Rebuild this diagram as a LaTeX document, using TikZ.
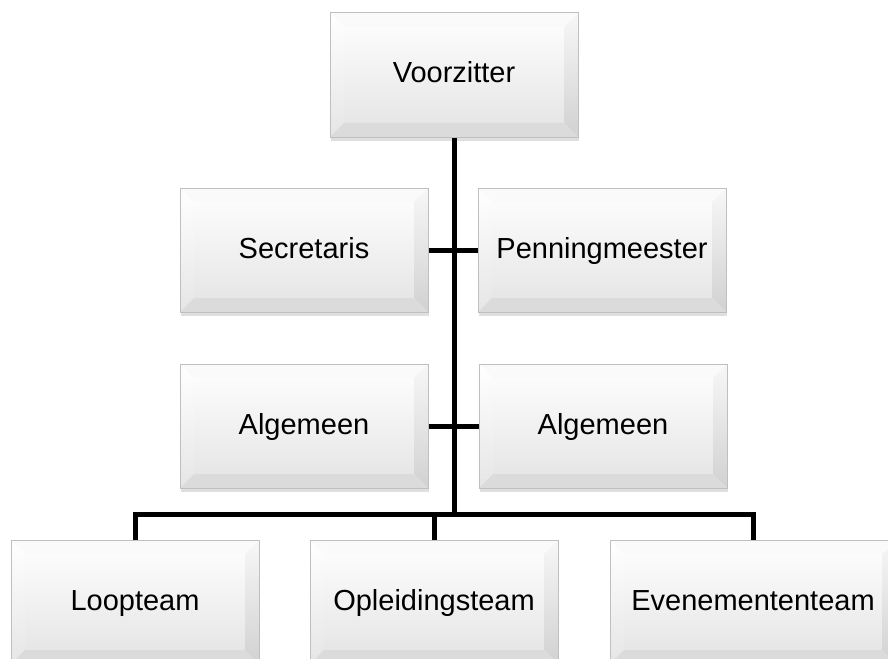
\documentclass[tikz,border=0pt]{standalone}
\usepackage{fontspec}
\setmainfont{Liberation Sans}
\usetikzlibrary{shadows}

\tikzset{
  bevel/.style={
    minimum width=248pt, minimum height=124pt, inner sep=0pt,
    text height=21pt, text depth=5pt,
    font=\fontsize{29}{31}\selectfont,
    draw=gray!50, line width=1pt,
    top color=white, bottom color=gray!22,
    drop shadow={shadow xshift=1pt, shadow yshift=-4pt, opacity=0.25, fill=gray},
    path picture={
      \coordinate (pnw) at (path picture bounding box.north west);
      \coordinate (pne) at (path picture bounding box.north east);
      \coordinate (psw) at (path picture bounding box.south west);
      \coordinate (pse) at (path picture bounding box.south east);
      \coordinate (inw) at ([shift={(14pt,-14pt)}]pnw);
      \coordinate (ine) at ([shift={(-14pt,-14pt)}]pne);
      \coordinate (isw) at ([shift={(14pt,14pt)}]psw);
      \coordinate (ise) at ([shift={(-14pt,14pt)}]pse);
      \fill[gray!4] (pnw) -- (pne) -- (ine) -- (inw) -- cycle;
      \shade[top color=white, bottom color=gray!20] (pnw) -- (inw) -- (isw) -- (psw) -- cycle;
      \shade[top color=gray!6, bottom color=gray!36] (pne) -- (ine) -- (ise) -- (pse) -- cycle;
      \fill[gray!28] (psw) -- (isw) -- (ise) -- (pse) -- cycle;
    }
  },
  conn/.style={line width=5pt}
}

\begin{document}
\begin{tikzpicture}[x=1pt,y=-1pt]
  \useasboundingbox (0,0) rectangle (888,658);
  \clip (0,0) rectangle (888,658);

  \node[bevel] (vz) at (454,75) {Voorzitter};
  \node[bevel] (secr) at (304,250) {Secretaris};
  \node[bevel] (penn) at (602,250) {Penningmeester};
  \node[bevel] (alg1) at (304,426) {Algemeen};
  \node[bevel] (alg2) at (603,426) {Algemeen};
  \node[bevel] (loop) at (135,602) {Loopteam};
  \node[bevel] (opl) at (434,602) {Opleidingsteam};
  \node[bevel, minimum width=286pt] (even) at (753,602) {Evenemententeam};

  \coordinate (bus) at (454,514);
  \draw[conn] (vz.south) -- (bus);
  \draw[conn] (secr.east) -- (penn.west);
  \draw[conn] (alg1.east) -- (alg2.west);
  \draw[conn] (loop.north) |- (bus) -| (even.north);
  \draw[conn] (opl.north) -- (opl.north |- bus);
\end{tikzpicture}
\end{document}
